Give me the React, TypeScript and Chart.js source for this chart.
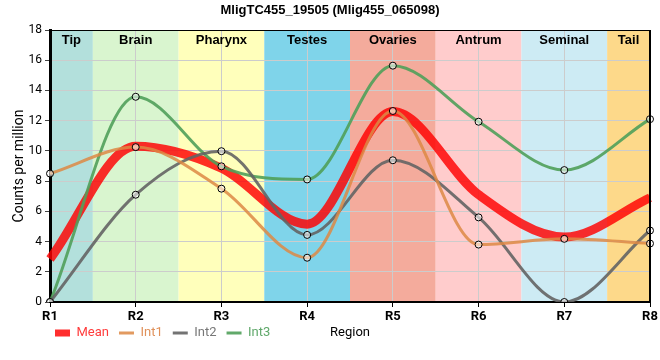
import React, { useEffect, useRef } from "react";
import { Chart, registerables } from "chart.js";

Chart.register(...registerables);

const categories = ["R1", "R2", "R3", "R4", "R5", "R6", "R7", "R8"];
const regionNames = ["Tip", "Brain", "Pharynx", "Testes", "Ovaries", "Antrum", "Seminal", "Tail"];
const regionColors = ["#b3e0dc", "#d9f5cf", "#ffffbb", "#7fd4ea", "#f4ab9c", "#ffcccc", "#cdebf4", "#fdd98a"];
const meanValues = [2.85, 10.3, 8.85, 5.15, 12.6, 7.1, 4.3, 6.9];
const int1Values = [8.5, 10.25, 7.5, 2.93, 12.64, 3.8, 4.18, 3.87];
const int2Values = [0, 7.1, 9.98, 4.44, 9.38, 5.6, 0, 4.73];
const int3Values = [0, 13.58, 8.98, 8.11, 15.64, 11.93, 8.73, 12.1];
const yTicks = [0, 2, 4, 6, 8, 10, 12, 14, 16, 18];
const chartTitle = "MligTC455_19505 (Mlig455_065098)";
const xTitle = "Region";

const seriesNames = ["Mean", "Int1", "Int2", "Int3"];
const seriesColors = ["rgba(255,0,0,0.82)", "rgba(221,136,68,0.85)", "rgba(100,100,100,0.9)", "rgba(80,160,90,0.9)"];
const textColors = ["#ff3b3b", "#e0915a", "#777777", "#5fa86a"];

const bandsPlugin = {
  id: "bands",
  afterLayout(chart: any) {
    const lg = chart.legend;
    if (lg) {
      lg.top -= 9.5;
      lg.bottom -= 9.5;
      lg.left -= 5;
      lg.right -= 5;
    }
  },
  beforeDraw(chart: any) {
    const { ctx, chartArea, scales } = chart;
    const x = scales.x;
    ctx.save();
    regionNames.forEach((_, i) => {
      const a = Math.max(0, i - 0.5);
      const b = Math.min(categories.length - 1, i + 0.5);
      const x0 = x.getPixelForValue(a);
      const x1 = x.getPixelForValue(b);
      ctx.fillStyle = regionColors[i];
      ctx.fillRect(x0, chartArea.top, x1 - x0, chartArea.bottom - chartArea.top);
    });
    ctx.restore();
  },
  afterDraw(chart: any) {
    const { ctx, chartArea, scales } = chart;
    const x = scales.x;
    ctx.save();
    ctx.font = "bold 13px 'Liberation Sans', Arial, sans-serif";
    ctx.fillStyle = "#000";
    ctx.textAlign = "center";
    ctx.textBaseline = "middle";
    regionNames.forEach((name, i) => {
      const a = Math.max(0, i - 0.5);
      const b = Math.min(categories.length - 1, i + 0.5);
      const cx = (x.getPixelForValue(a) + x.getPixelForValue(b)) / 2;
      ctx.fillText(name, cx, chartArea.top + 10);
    });
    // top and right frame
    ctx.strokeStyle = "#000";
    ctx.lineWidth = 1;
    ctx.beginPath();
    ctx.moveTo(chartArea.left, chartArea.top + 0.5);
    ctx.lineTo(chartArea.right, chartArea.top + 0.5);
    ctx.stroke();
    ctx.lineWidth = 2;
    ctx.beginPath();
    ctx.moveTo(chartArea.right, chartArea.top);
    ctx.lineTo(chartArea.right, chartArea.bottom);
    ctx.stroke();
    // title
    ctx.font = "bold 13px 'Liberation Sans', Arial, sans-serif";
    ctx.fillText(chartTitle, chart.width / 2, 10);
    // x axis title on the legend row
    const legend = chart.legend;
    const ly = legend ? legend.top + 16.5 : chartArea.bottom + 30;
    ctx.font = "13px Roboto, sans-serif";
    ctx.fillText(xTitle, (chartArea.left + chartArea.right) / 2, ly);
    ctx.restore();
  },
};

export default function App() {
  const ref = useRef<HTMLCanvasElement | null>(null);
  useEffect(() => {
    if (!ref.current) return;
    const seriesData = [meanValues, int1Values, int2Values, int3Values];
    const chart = new Chart(ref.current, {
      type: "line",
      data: {
        labels: categories,
        datasets: seriesNames.map((name, i) => ({
          label: name,
          data: seriesData[i],
          borderColor: seriesColors[i],
          backgroundColor: seriesColors[i],
          borderWidth: i === 0 ? 9 : 3,
          cubicInterpolationMode: "monotone" as const,
          pointRadius: i === 0 ? 0 : 3.5,
          pointBackgroundColor: "rgba(255,255,255,0.55)",
          pointBorderColor: "#000",
          pointBorderWidth: 1,
          fill: false,
          order: i === 0 ? 1 : 0,
        })),
      },
      options: {
        animation: false,
        responsive: true,
        maintainAspectRatio: false,
        layout: { padding: { left: 0, right: 10, top: 30, bottom: 1 } },
        plugins: {
          title: { display: false },
          legend: {
            display: true,
            position: "bottom",
            align: "start",
            fullSize: false,
            labels: {
              usePointStyle: true,
              pointStyleWidth: 15,
              padding: 10,
              font: { family: "Roboto, sans-serif", size: 13 },
              generateLabels: () =>
                seriesNames.map((name, i) => ({
                  text: name,
                  fillStyle: seriesColors[i],
                  strokeStyle: seriesColors[i],
                  lineWidth: i === 0 ? 7 : 3,
                  pointStyle: "line",
                  fontColor: textColors[i],
                  hidden: false,
                  datasetIndex: i,
                })),
            },
          },
          tooltip: { enabled: false },
        },
        scales: {
          x: {
            type: "category",
            offset: false,
            grid: { color: "#cccccc", lineWidth: 1, tickLength: 5, tickColor: "#000" },
            border: { color: "#000", width: 2 },
            ticks: { color: "#000", font: { family: "Roboto, sans-serif", size: 13, weight: "bold" }, padding: 2, maxRotation: 0 },
            afterFit: (s: any) => { s.height = 24; },
          },
          y: {
            min: 0,
            max: 18,
            afterBuildTicks: (s: any) => { s.ticks = yTicks.map((v) => ({ value: v })); },
            grid: { color: "#cccccc", lineWidth: 1, tickLength: 5, tickColor: "#444" },
            border: { color: "#000", width: 3 },
            ticks: { color: "#000", font: { family: "Roboto, sans-serif", size: 12 }, padding: 3 },
            title: {
              display: true,
              text: "Counts per million",
              color: "#000",
              font: { family: "Roboto, sans-serif", size: 14 },
              padding: { top: 11, bottom: 0 },
            },
            afterFit: (s: any) => { s.width = 50; },
          },
        },
      },
      plugins: [bandsPlugin],
    });
    return () => chart.destroy();
  }, []);
  return (
    <div style={{ position: "fixed", left: 0, top: 0, width: 660, height: 360 }}>
      <canvas ref={ref} />
    </div>
  );
}
